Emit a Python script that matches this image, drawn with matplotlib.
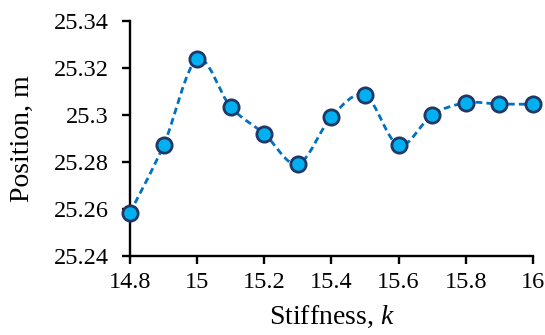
import matplotlib.pyplot as plt
from matplotlib.path import Path
from matplotlib.patches import PathPatch
import numpy as np

stiffness = [14.8, 14.9, 15.0, 15.1, 15.2, 15.3, 15.4, 15.5, 15.6, 15.7, 15.8, 15.9, 16.0]
position = [25.2584, 25.2871, 25.3237, 25.3034, 25.2920, 25.2791, 25.2993,
            25.3084, 25.2871, 25.3001, 25.3052, 25.3047, 25.3046]
x_ticks = [14.8, 15.0, 15.2, 15.4, 15.6, 15.8, 16.0]
x_tick_labels = ['14.8', '15', '15.2', '15.4', '15.6', '15.8', '16']
y_ticks = [25.24, 25.26, 25.28, 25.30, 25.32, 25.34]
y_tick_labels = ['25.24', '25.26', '25.28', '25.3', '25.32', '25.34']

plt.rcParams['font.family'] = ['Liberation Serif', 'DejaVu Serif']
plt.rcParams['mathtext.fontset'] = 'custom'
plt.rcParams['mathtext.it'] = 'Liberation Serif:italic'
plt.rcParams['mathtext.rm'] = 'Liberation Serif'


def smooth_path(xs, ys):
    # spreadsheet-style smoothed line: cubic Bezier segments through every point
    pts = np.column_stack([xs, ys])
    n = len(pts)
    verts = [pts[0]]
    codes = [Path.MOVETO]
    for i in range(n - 1):
        p0 = pts[i - 1] if i > 0 else pts[i]
        p1 = pts[i]
        p2 = pts[i + 1]
        p3 = pts[i + 2] if i + 2 < n else pts[i + 1]
        c1 = p1 + (p2 - p0) / 6.0
        c2 = p2 - (p3 - p1) / 6.0
        verts += [c1, c2, p2]
        codes += [Path.CURVE4] * 3
    return Path(verts, codes)


fig = plt.figure(figsize=(5.45, 3.35), dpi=100)
ax = fig.add_axes([0.2385, 0.236, 0.7395, 0.701])

patch = PathPatch(smooth_path(stiffness, position), fill=False, edgecolor='#0070C0',
                  linewidth=2.0, linestyle=(0, (2.4, 1.5)), zorder=2)
ax.add_patch(patch)
ax.plot(stiffness, position, linestyle='none', marker='o', markersize=11,
        markerfacecolor='#00B0F0', markeredgecolor='#1F3864', markeredgewidth=2.0,
        zorder=3, clip_on=False)

ax.set_xlim(14.8, 16.0)
ax.set_ylim(25.24, 25.34)
ax.set_xticks(x_ticks)
ax.set_xticklabels(x_tick_labels)
ax.set_yticks(y_ticks)
ax.set_yticklabels(y_tick_labels)

for side in ['top', 'right']:
    ax.spines[side].set_visible(False)
for side in ['left', 'bottom']:
    ax.spines[side].set_linewidth(1.7)
ax.tick_params(axis='both', which='major', direction='out', length=5.5, width=1.7,
               labelsize=17.5, colors='black')
ax.tick_params(axis='y', pad=10)
ax.tick_params(axis='x', pad=6)

ax.set_xlabel('Stiffness, $\\mathit{k}$', fontsize=20, labelpad=8)
ax.set_ylabel('Position, m', fontsize=20, labelpad=13)

fig.savefig('out.png', dpi=100)
